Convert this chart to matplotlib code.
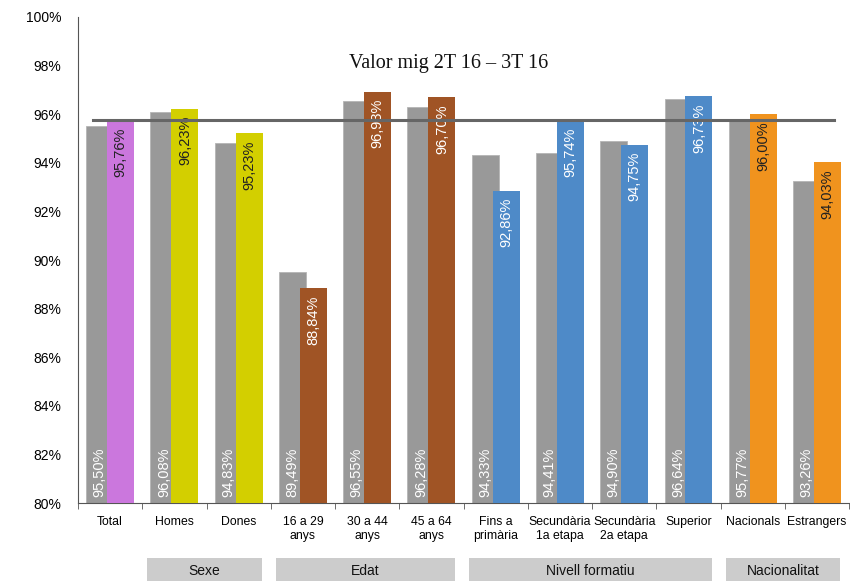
import matplotlib.pyplot as plt
import matplotlib.transforms as mtransforms
from matplotlib.patches import Rectangle
import numpy as np

categories = ['Total', 'Homes', 'Dones', '16 a 29\nanys', '30 a 44\nanys', '45 a 64\nanys',
              'Fins a\nprimària', 'Secundària\n1a etapa', 'Secundària\n2a etapa', 'Superior',
              'Nacionals', 'Estrangers']
prev_vals = [95.50, 96.08, 94.83, 89.49, 96.55, 96.28, 94.33, 94.41, 94.90, 96.64, 95.77, 93.26]
curr_vals = [95.76, 96.23, 95.23, 88.84, 96.93, 96.70, 92.86, 95.74, 94.75, 96.73, 96.00, 94.03]
mean_val = 95.76

groups = ['Sexe', 'Edat', 'Nivell formatiu', 'Nacionalitat']
group_span = [(1, 2), (3, 5), (6, 9), (10, 11)]

pink, yellow, brown, blue, orange = '#CB77DD', '#D3CF00', '#A05425', '#4E8AC8', '#F0931E'
curr_colors = [pink, yellow, yellow, brown, brown, brown, blue, blue, blue, blue, orange, orange]
label_colors = ['#222222', '#222222', '#222222', 'white', 'white', 'white',
                'white', 'white', 'white', 'white', '#222222', '#222222']

plt.rcParams['font.family'] = ['Liberation Sans', 'DejaVu Sans']

fig = plt.figure(figsize=(8.5, 5.86), dpi=100)
ax = fig.add_axes([0.0918, 0.1416, 0.9072, 0.8294])

x = np.arange(len(categories))
w = 0.42
off = 0.163
ax.bar(x - off, np.array(prev_vals) - 80, w, bottom=80, color='#999999',
       edgecolor='#b5b5b5', linewidth=0.6, zorder=2)
ax.bar(x + off, np.array(curr_vals) - 80, w, bottom=80, color=curr_colors, zorder=3)

def fmt(v):
    return f'{v:.2f}'.replace('.', ',') + '%'

for i in range(len(categories)):
    ax.text(x[i] - off, 80.25, fmt(prev_vals[i]), rotation=90, ha='center', va='bottom',
            color='white', fontsize=10.5, zorder=4)
    ax.text(x[i] + off, curr_vals[i] - 0.3, fmt(curr_vals[i]), rotation=90, ha='center',
            va='top', color=label_colors[i], fontsize=10.5, zorder=4)

ax.plot([-0.27, 11.27], [mean_val, mean_val], color='#666666', lw=2.2, zorder=5)
ax.text(5.27, 98.1, 'Valor mig 2T 16 – 3T 16', family='Liberation Serif', fontsize=14.5,
        ha='center', va='center', color='#111111')

ax.set_xlim(-0.5, 11.5)
ax.set_ylim(80, 100)
ax.set_yticks(np.arange(80, 101, 2))
ax.set_yticklabels([f'{v}%' for v in range(80, 101, 2)], fontsize=10)
ax.tick_params(axis='y', length=0, pad=12)
ax.set_xticks(x)
ax.set_xticklabels(categories, fontsize=8.8, linespacing=1.25)
ax.set_xticks(np.arange(-0.5, 12, 1), minor=True)
ax.tick_params(axis='x', which='major', length=0, pad=9)
ax.tick_params(axis='x', which='minor', length=4, color='#555555')
for s in ['top', 'right']:
    ax.spines[s].set_visible(False)
ax.spines['left'].set_color('#555555')
ax.spines['bottom'].set_color('#555555')

trans = mtransforms.blended_transform_factory(ax.transData, fig.transFigure)
y0 = 1 - 581 / 586
h = 23 / 586
for name, (a, b) in zip(groups, group_span):
    left = a - 0.42
    right = b + 0.36
    fig.patches.append(Rectangle((left, y0), right - left, h, transform=trans,
                                 facecolor='#CCCCCC', edgecolor='none'))
    fig.text((left + right) / 2, y0 + h / 2, name, transform=trans, ha='center',
             va='center_baseline', fontsize=10, color='#111111')

fig.savefig('out.png', dpi=100)
